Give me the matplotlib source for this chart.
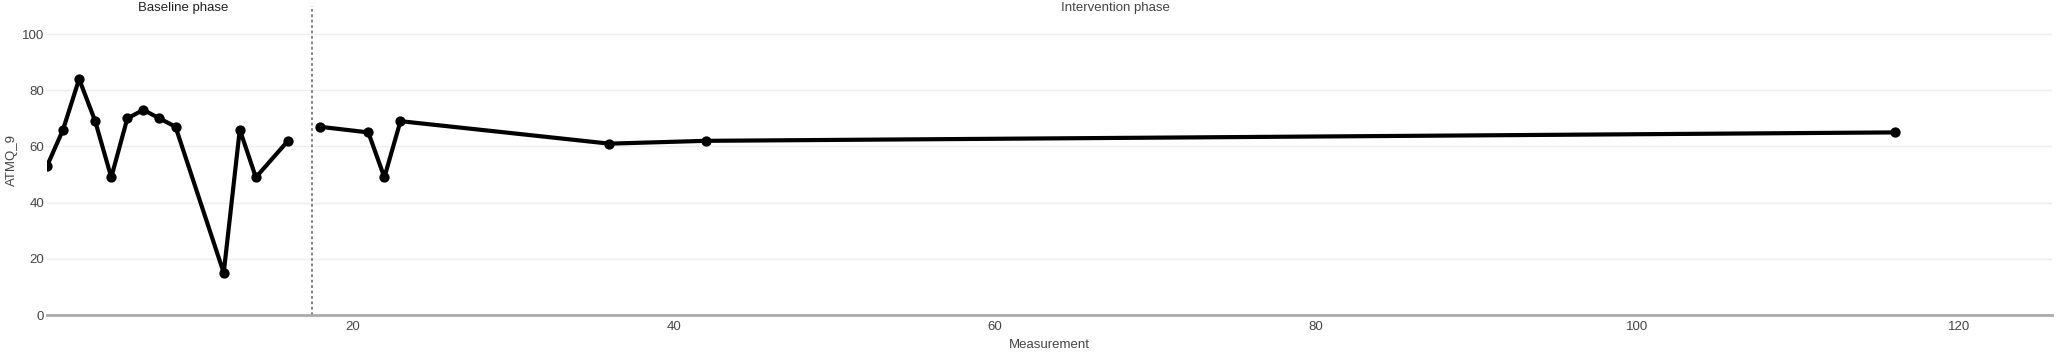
import matplotlib
matplotlib.use("Agg")
import matplotlib.pyplot as plt
from matplotlib.transforms import blended_transform_factory

plt.rcParams['font.family'] = ['Liberation Sans', 'DejaVu Sans']

baseline_x = [1, 2, 3, 4, 5, 6, 7, 8, 9, 12, 13, 14, 16]
baseline_y = [53, 66, 84, 69, 49, 70, 73, 70, 67, 15, 66, 49, 62]
intervention_x = [18, 21, 22, 23, 36, 42, 116]
intervention_y = [67, 65, 49, 69, 61, 62, 65]
phase_labels = ["Baseline phase", "Intervention phase"]
phase_change = 17.5
y_ticks = [0, 20, 40, 60, 80, 100]
x_ticks = [20, 40, 60, 80, 100, 120]

W, H = 2056, 353
fig = plt.figure(figsize=(W / 100, H / 100), dpi=100)
left, right, top, bottom = 47, 2052, 6, 315
ax = fig.add_axes([left / W, (H - bottom) / H, (right - left) / W, (bottom - top) / H])

ax.set_xlim(1, 125.8)
ax.set_ylim(0, 110)

for xs, ys in [(baseline_x, baseline_y), (intervention_x, intervention_y)]:
    ax.plot(xs, ys, color='black', linewidth=3.0, marker='o', markersize=6.4,
            solid_joinstyle='round', solid_capstyle='round', clip_on=True, zorder=3)

ax.axvline(phase_change, color='#777777', linewidth=1.3, linestyle=(0, (1.5, 1.5)), zorder=2)

ax.set_yticks(y_ticks)
ax.set_xticks(x_ticks)
ax.grid(True, axis='y', color='#eeeeee', linewidth=1)
ax.set_axisbelow(True)
for s in ['top', 'right', 'left']:
    ax.spines[s].set_visible(False)
ax.spines['bottom'].set_color('#aaaaaa')
ax.spines['bottom'].set_linewidth(2)
ax.tick_params(axis='both', length=0, labelsize=9.5, colors='#444444')
ax.tick_params(axis='y', pad=2)
ax.tick_params(axis='x', pad=4)

fig.text(12 / W, 1 - 160.5 / H, "ATMQ_9", rotation=90, ha='center', va='center',
         fontsize=9.5, color='#444444')
fig.text((left + right) / 2 / W, 1 - 345 / H, "Measurement", ha='center', va='center',
         fontsize=9.5, color='#444444')

trans = blended_transform_factory(ax.transData, fig.transFigure)
ytxt = 1 - 7.5 / H
ax.text(9.5, ytxt, phase_labels[0], transform=trans, ha='center', va='center',
        fontsize=9.5, color='#222222')
ax.text(67.5, ytxt, phase_labels[1], transform=trans, ha='center', va='center',
        fontsize=9.5, color='#444444')

fig.savefig("out.png", dpi=100)
